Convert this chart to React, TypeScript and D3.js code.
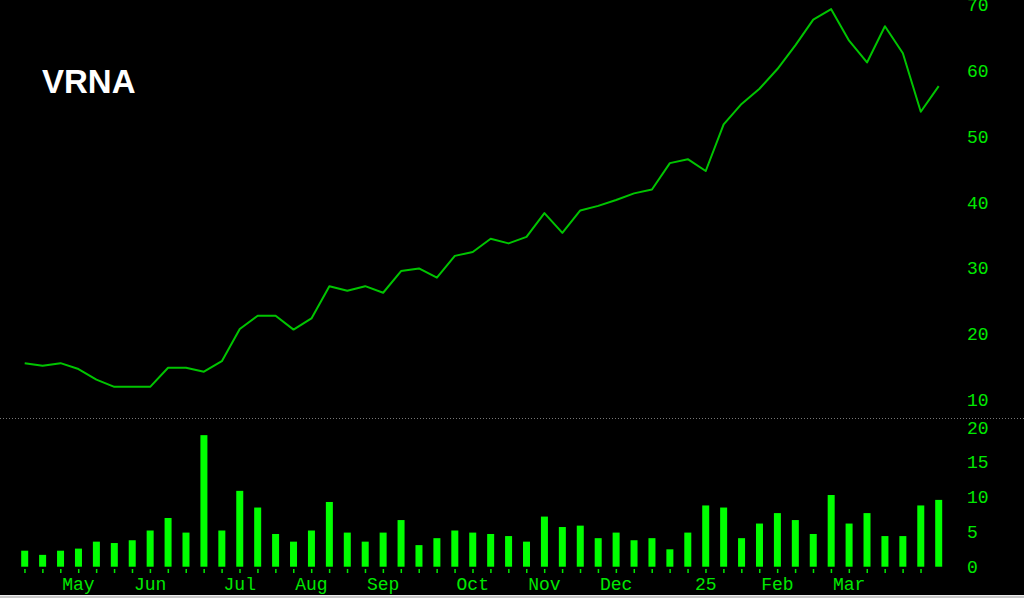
import React from "react";
import * as d3 from "d3";

const W = 1024;
const H = 598;

const ticker = "VRNA";

// Weekly closing prices (52 weeks)
const prices: number[] = [
  15.6, 15.2, 15.6, 14.7, 13.1, 12.0, 12.0, 12.0, 14.9, 14.9,
  14.3, 15.9, 20.8, 22.8, 22.8, 20.7, 22.4, 27.3, 26.6, 27.3,
  26.3, 29.6, 30.0, 28.6, 31.9, 32.5, 34.5, 33.8, 34.8, 38.4,
  35.4, 38.8, 39.5, 40.4, 41.4, 42.0, 46.0, 46.6, 44.8, 51.9,
  55.0, 57.3, 60.3, 63.9, 67.8, 69.4, 64.6, 61.3, 66.8, 62.7,
  53.8, 57.7,
];

// Weekly volume (millions)
const volumes: number[] = [
  2.3, 1.7, 2.3, 2.6, 3.6, 3.4, 3.8, 5.2, 7.0, 4.9,
  18.9, 5.2, 10.9, 8.5, 4.7, 3.6, 5.2, 9.3, 4.9, 3.6,
  4.9, 6.7, 3.1, 4.1, 5.2, 4.9, 4.7, 4.4, 3.6, 7.2,
  5.7, 5.9, 4.1, 4.9, 3.8, 4.1, 2.5, 4.9, 8.8, 8.5,
  4.1, 6.2, 7.7, 6.7, 4.7, 10.3, 6.2, 7.7, 4.4, 4.4,
  8.8, 9.6,
];

const monthLabels: string[] = ["May", "Jun", "Jul", "Aug", "Sep", "Oct", "Nov", "Dec", "25", "Feb", "Mar"];
const monthIndex: number[] = [3, 7, 12, 16, 20, 25, 29, 33, 38, 42, 46];

const priceTicks: number[] = [10, 20, 30, 40, 50, 60, 70];
const volumeTicks: number[] = [0, 5, 10, 15, 20];

export default function App() {
  const x = d3.scaleLinear().domain([0, prices.length - 1]).range([24.7, 938.7]);
  const yP = d3.scaleLinear().domain([10, 70]).range([400, 5.2]);
  const yV = d3.scaleLinear().domain([0, 20]).range([566.7, 427.5]);

  const line = d3
    .line<number>()
    .x((_, i) => x(i))
    .y((d) => yP(d));

  const barW = 7;
  const green = "#00ff00";
  const textGreen = "#00e800";
  const mono = "'Liberation Mono', 'DejaVu Sans Mono', monospace";

  return (
    <svg
      width={W}
      height={H}
      style={{ position: "fixed", left: 0, top: 0, display: "block" }}
    >
      <rect x={0} y={0} width={W} height={H} fill="#000" />
      <text
        x={42}
        y={93}
        fill="#fff"
        fontFamily="'Liberation Sans', Arial, sans-serif"
        fontWeight="bold"
        fontSize={33}
      >
        {ticker}
      </text>

      {/* separator */}
      <line x1={0} x2={W} y1={418.5} y2={418.5} stroke="#777" strokeWidth={1} strokeDasharray="1,2" />

      {/* price line */}
      <path d={line(prices) || ""} fill="none" stroke="#00c400" strokeWidth={2} strokeLinejoin="round" />

      {/* volume bars */}
      {volumes.map((v, i) => (
        <rect
          key={"b" + i}
          x={x(i) - barW / 2}
          y={yV(v)}
          width={barW}
          height={yV(0) - yV(v)}
          fill={green}
        />
      ))}

      {/* small date ticks */}
      {volumes.slice(0, volumes.length - 1).map((_, i) => (
        <rect key={"t" + i} x={x(i) - 0.5} y={569} width={1.5} height={4} fill={textGreen} />
      ))}

      {/* month labels */}
      {monthLabels.map((m, k) => (
        <text
          key={"m" + m}
          x={x(monthIndex[k])}
          y={590}
          fill={textGreen}
          fontFamily={mono}
          fontSize={18}
          textAnchor="middle"
        >
          {m}
        </text>
      ))}

      {/* price axis labels */}
      {priceTicks.map((t) => (
        <text key={"p" + t} x={967} y={yP(t) + 6} fill={textGreen} fontFamily={mono} fontSize={18}>
          {t}
        </text>
      ))}

      {/* volume axis labels */}
      {volumeTicks.map((t) => (
        <text key={"v" + t} x={967} y={yV(t) + 6} fill={textGreen} fontFamily={mono} fontSize={18}>
          {t}
        </text>
      ))}

      {/* bottom border */}
      <rect x={0} y={595} width={W} height={1} fill="#eee" />
      <rect x={0} y={596} width={W} height={2} fill="#c8c8c8" />
    </svg>
  );
}
